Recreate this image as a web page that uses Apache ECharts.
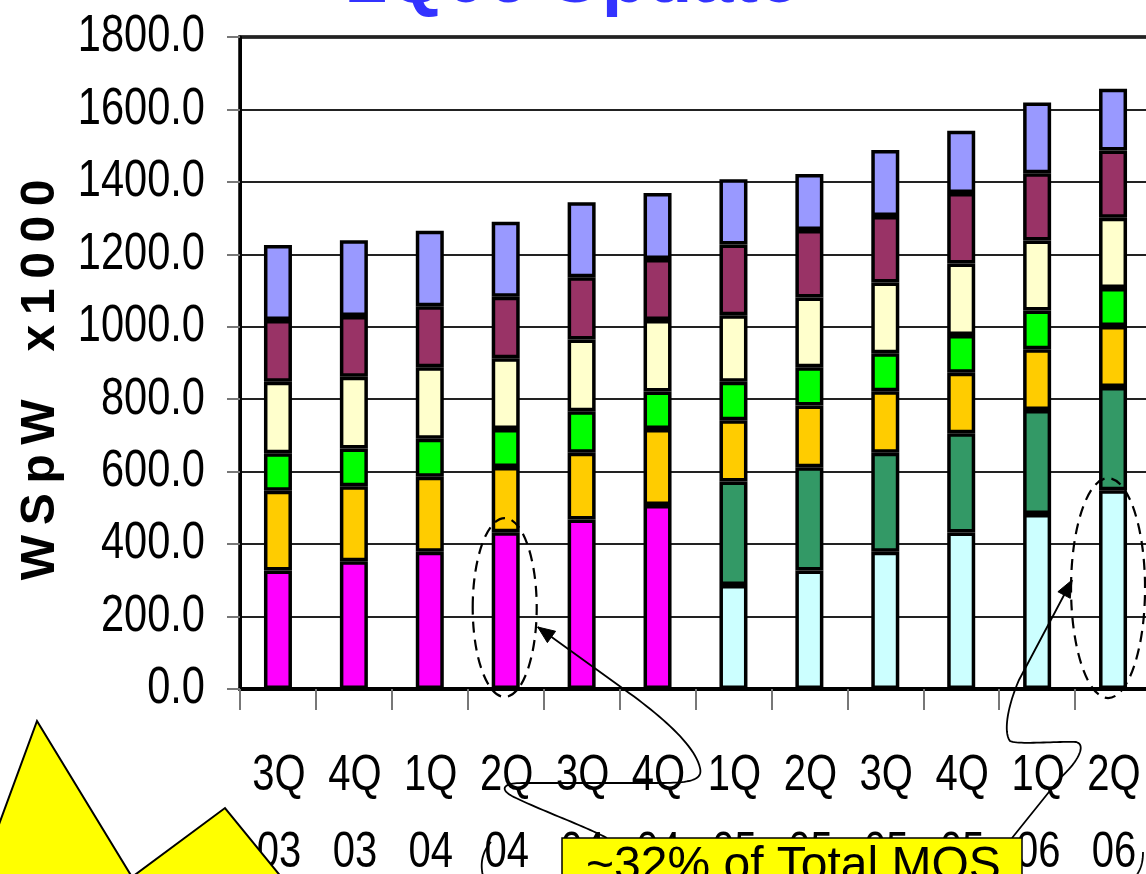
<!DOCTYPE html>
<html>
<head>
<meta charset="utf-8">
<script src="https://cdn.jsdelivr.net/npm/echarts@6/dist/echarts.min.js"></script>
<style>
  html, body { margin: 0; padding: 0; background: #ffffff; }
  #chart { width: 1146px; height: 874px; }
</style>
</head>
<body>
<div id="chart"></div>
<script>
// Quarters on the category axis (quarter / year on two lines)
const quarters = ['3Q\n03', '4Q\n03', '1Q\n04', '2Q\n04', '3Q\n04', '4Q\n04',
                  '1Q\n05', '2Q\n05', '3Q\n05', '4Q\n05', '1Q\n06', '2Q\n06'];

// Value axis range and tick labels (WSpW x1000)
const yMin = 0;
const yMax = 1800;
const yStep = 200;
const yTickLabels = ['0.0', '200.0', '400.0', '600.0', '800.0', '1000.0',
                     '1200.0', '1400.0', '1600.0', '1800.0'];

// Stack segments, bottom to top
const magentaBase = [327, 353, 379, 433, 468, 508, null, null, null, null, null, null];
const cyanBase    = [null, null, null, null, null, null, 287, 327, 379, 432, 483, 549];
const seaGreen    = [null, null, null, null, null, null, 286, 285, 273, 274, 287, 285];
const gold        = [220, 207, 207, 180, 184, 210, 169, 171, 170, 167, 168, 168];
const brightGreen = [104, 104, 105, 105, 115, 103, 106, 105, 105, 104, 107, 105];
const paleYellow  = [197, 198, 197, 195, 198, 198, 184, 193, 195, 198, 193, 194];
const plum        = [171, 168, 169, 170, 172, 168, 195, 186, 184, 194, 186, 186];
const periwinkle  = [207, 209, 208, 207, 207, 182, 180, 155, 182, 172, 195, 170];

const segments = [
  { name: 'Base A', data: magentaBase, color: '#FF00FF' },
  { name: 'Base B', data: cyanBase,    color: '#CCFFFF' },
  { name: 'Seg C',  data: seaGreen,    color: '#339966' },
  { name: 'Seg D',  data: gold,        color: '#FFCC00' },
  { name: 'Seg E',  data: brightGreen, color: '#00FF00' },
  { name: 'Seg F',  data: paleYellow,  color: '#FFFFCC' },
  { name: 'Seg G',  data: plum,        color: '#993366' },
  { name: 'Seg H',  data: periwinkle,  color: '#9999FF' }
];

const sans = "'Liberation Sans', Arial, sans-serif";
// tick labels use a horizontally condensed sans (narrow face emulated by scaling)
const narrowScale = 0.8;

const chart = echarts.init(document.getElementById('chart'), null, { renderer: 'canvas' });

chart.setOption({
  animation: false,
  backgroundColor: '#ffffff',
  title: {
    text: '2Q06 Update',
    left: 'center',
    top: -60,
    textStyle: { fontFamily: sans, fontSize: 74, fontWeight: 'bold', color: '#3333FF' }
  },
  grid: {
    left: 240, top: 37, width: 911, height: 652,
    containLabel: false, outerBoundsMode: 'none',
    show: true, borderColor: '#000', borderWidth: 3.5, backgroundColor: 'transparent'
  },
  xAxis: {
    type: 'category',
    data: quarters,
    axisLine: { lineStyle: { color: '#000', width: 4 } },
    axisTick: { show: true, length: 21, lineStyle: { color: '#777', width: 2 } },
    axisLabel: { show: false }
  },
  yAxis: {
    type: 'value',
    min: yMin, max: yMax, interval: yStep,
    name: 'W\u2009S\u2009p\u2009W\u2003x\u20091\u20090\u20090\u20090\u2002\u2009',
    nameLocation: 'middle',
    nameRotate: 90,
    nameGap: 175,
    nameMoveOverlap: false,
    nameTextStyle: { fontFamily: sans, fontSize: 48, fontWeight: 'bold', color: '#000' },
    axisLine: { show: true, lineStyle: { color: '#000', width: 3 } },
    axisTick: { show: true, length: 13, lineStyle: { color: '#777', width: 2 } },
    axisLabel: { show: false },
    splitLine: { show: true, lineStyle: { color: '#222', width: 2 } }
  },
  series: segments.map(s => ({
    type: 'bar',
    name: s.name,
    stack: 'total',
    data: s.data,
    barWidth: 28,
    itemStyle: { color: s.color, borderColor: '#000', borderWidth: 3.5 }
  }))
});

function px(cat, val) { return chart.convertToPixel({ gridIndex: 0 }, [cat, val]); }

// Tick labels placed on the axis scales
const tickLabelEls = [];
yTickLabels.forEach((label, i) => {
  const p = px(0, yMin + i * yStep);
  tickLabelEls.push({
    type: 'text', z: 50,
    x: 205, y: p[1], scaleX: narrowScale,
    style: { text: label, fill: '#000', font: '52px ' + sans, textAlign: 'right', textVerticalAlign: 'middle' }
  });
});
quarters.forEach((label, i) => {
  const p = px(i, 0);
  tickLabelEls.push({
    type: 'text', z: 50,
    x: p[0] + 1, y: p[1] + 49, scaleX: narrowScale,
    style: { text: label, fill: '#000', font: '50px ' + sans, lineHeight: 77, textAlign: 'center', textVerticalAlign: 'top' }
  });
});

// Annotations: dashed ellipses around the highlighted bars, connector curves and callouts
function ringAround(catIndex, topVal, bottomVal, dx, rx) {
  const top = px(catIndex, topVal);
  const bot = px(catIndex, bottomVal);
  return {
    type: 'ellipse', z: 100,
    shape: { cx: top[0] + dx, cy: (top[1] + bot[1]) / 2, rx: rx, ry: (bot[1] - top[1]) / 2 },
    style: { fill: 'none', stroke: '#000', lineWidth: 2.2, lineDash: [11, 7] }
  };
}

function arrowHead(tip, from, len, half) {
  const ang = Math.atan2(tip[1] - from[1], tip[0] - from[0]);
  const bx = tip[0] - len * Math.cos(ang), by = tip[1] - len * Math.sin(ang);
  const nx = -Math.sin(ang) * half, ny = Math.cos(ang) * half;
  return {
    type: 'polygon', z: 101,
    shape: { points: [tip, [bx + nx, by + ny], [bx - nx, by - ny]] },
    style: { fill: '#000', stroke: '#000', lineWidth: 1 }
  };
}

// Connector built from a start point followed by straight ('L') and cubic ('C') steps
function connector(start, steps) {
  const pts = [start.slice()];
  let cur = start;
  steps.forEach(st => {
    if (st[0] === 'L') {
      cur = st[1];
      pts.push(cur.slice());
    } else {
      const p0 = cur, p1 = st[1], p2 = st[2], p3 = st[3];
      for (let i = 1; i <= 24; i++) {
        const t = i / 24, u = 1 - t;
        pts.push([
          u * u * u * p0[0] + 3 * u * u * t * p1[0] + 3 * u * t * t * p2[0] + t * t * t * p3[0],
          u * u * u * p0[1] + 3 * u * u * t * p1[1] + 3 * u * t * t * p2[1] + t * t * t * p3[1]
        ]);
      }
      cur = p3;
    }
  });
  return {
    type: 'polyline', z: 100,
    shape: { points: pts },
    style: { fill: 'none', stroke: '#000', lineWidth: 1.8 }
  };
}

const ring1 = ringAround(3, magentaBase[3] + 39, -22, -1, 32);
const ring2 = ringAround(11, cyanBase[11] + 33, -25, -5, 37);

const tip1 = [ring1.shape.cx + ring1.shape.rx + 1, 627];
const tip2 = [ring2.shape.cx - ring2.shape.rx + 1, 580];

chart.setOption({
  graphic: tickLabelEls.concat([
    // burst shape at lower left
    {
      type: 'polygon', z: 90,
      shape: { points: [[-6, 838], [37, 721], [132, 877], [225, 808], [300, 900], [-6, 900]] },
      style: { fill: '#FFFF00', stroke: '#000', lineWidth: 2 }
    },
    ring1,
    ring2,
    connector(tip1, [
      ['L', [625, 690]],
      ['C', [660, 715], [695, 745], [700, 768]],
      ['C', [703, 780], [690, 783], [660, 783]],
      ['L', [522, 783]],
      ['C', [500, 783], [500, 791], [516, 798]],
      ['C', [545, 812], [582, 825], [607, 838]]
    ]),
    arrowHead(tip1, [625, 690], 17, 7),
    connector(tip2, [
      ['L', [1019, 680]],
      ['C', [1008, 705], [1003, 732], [1010, 741]],
      ['C', [1018, 745], [1060, 741], [1076, 742]],
      ['C', [1088, 745], [1075, 765], [1061, 777]],
      ['L', [1012, 838]]
    ]),
    arrowHead(tip2, [1019, 680], 17, 7),
    connector([491, 842], [['C', [482, 852], [480, 864], [483, 876]]]),
    connector([1143, 852], [['C', [1143, 862], [1141, 869], [1136, 876]]]),
    // callout box
    {
      type: 'rect', z: 110,
      shape: { x: 562, y: 838, width: 460, height: 60 },
      style: { fill: '#FFFF00', stroke: '#000', lineWidth: 1.5 }
    },
    {
      type: 'text', z: 111,
      x: 586, y: 843,
      style: {
        text: '~32% of Total MOS', fill: '#000',
        font: '48px ' + sans, textAlign: 'left', textVerticalAlign: 'top'
      }
    }
  ])
});
</script>
</body>
</html>
